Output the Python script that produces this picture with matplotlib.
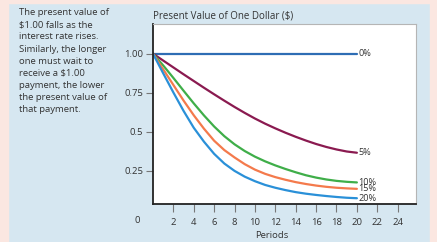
import matplotlib.pyplot as plt
from matplotlib.patches import Rectangle

##-Data
periods = list(range(0, 21))
rate_labels = ['0%', '5%', '10%', '15%', '20%']
pv_0 = [1.0] * 21
pv_5 = [1.0, 0.956, 0.912, 0.868, 0.825, 0.782, 0.740, 0.699, 0.659, 0.621, 0.585,
        0.552, 0.522, 0.494, 0.468, 0.444, 0.422, 0.403, 0.387, 0.374, 0.366]
pv_10 = [1.0, 0.925, 0.845, 0.763, 0.682, 0.605, 0.534, 0.472, 0.420, 0.377, 0.341,
         0.311, 0.285, 0.262, 0.241, 0.222, 0.207, 0.195, 0.186, 0.180, 0.176]
pv_15 = [1.0, 0.90, 0.80, 0.70, 0.606, 0.520, 0.443, 0.383, 0.336, 0.293, 0.258,
         0.231, 0.210, 0.193, 0.178, 0.166, 0.156, 0.148, 0.142, 0.138, 0.135]
pv_20 = [1.0, 0.875, 0.752, 0.634, 0.526, 0.437, 0.359, 0.297, 0.250, 0.213, 0.184,
         0.160, 0.142, 0.127, 0.114, 0.104, 0.096, 0.089, 0.083, 0.078, 0.075]
series = [pv_0, pv_5, pv_10, pv_15, pv_20]
colors = ['#2e6db4', '#8a1a50', '#3fae49', '#f47a4c', '#2a90d8']

yticks = [1.00, 0.75, 0.5, 0.25]
ytick_labels = ['1.00', '0.75', '0.5', '0.25']
xticks = [2, 4, 6, 8, 10, 12, 14, 16, 18, 20, 22, 24]

note = ('The present value of\n\\$1.00 falls as the\ninterest rate rises.\n'
        'Similarly, the longer\none must wait to\nreceive a \\$1.00\n'
        'payment, the lower\nthe present value of\nthat payment.')

##-Plot
plt.rcParams['font.family'] = ['Open Sans', 'DejaVu Sans']
txt_col = '#333333'
pink = '#fbe7e1'

fig = plt.figure(figsize=(4.37, 2.42), dpi=100)
fig.patch.set_facecolor('#d6e7f1')
# pink frame on top, left and right
for r in [(0, 0.987, 1, 0.013), (0, 0, 0.018, 1), (0.984, 0, 0.016, 1)]:
    fig.patches.append(Rectangle(r[:2], r[2], r[3], transform=fig.transFigure,
                                 color=pink, zorder=0))

ax = fig.add_axes([0.350, 0.157, 0.602, 0.744])
ax.set_facecolor('white')

for y, c in zip(series, colors):
    ax.plot(periods, y, color=c, lw=1.6, solid_capstyle='round')

for lab, y in zip(rate_labels, series):
    ax.text(20.15, y[-1], lab, fontsize=6.6, color=txt_col, va='center', ha='left')

ax.set_xlim(0, 25.8)
ax.set_ylim(0.038, 1.19)
ax.set_yticks(yticks)
ax.set_yticklabels(ytick_labels)
ax.set_xticks(xticks)
ax.tick_params(axis='both', direction='out', length=5, width=0.8, color='#777777',
               labelsize=6.8, labelcolor=txt_col, pad=2)
ax.tick_params(axis='x', length=6, pad=4)

for s in ['left', 'bottom']:
    ax.spines[s].set_color('#222222')
    ax.spines[s].set_linewidth(1.3)
for s in ['top', 'right']:
    ax.spines[s].set_color('#b5b5b5')
    ax.spines[s].set_linewidth(0.8)

ax.text(-0.05, -0.09, '0', transform=ax.transAxes, fontsize=6.8, color=txt_col,
        ha='right', va='center')

ax.set_xlabel('Periods', fontsize=6.8, color=txt_col)
ax.xaxis.set_label_coords(0.45, -0.15)
ax.text(0, 1.015, 'Present Value of One Dollar (\\$)', transform=ax.transAxes,
        fontsize=7, color=txt_col, ha='left', va='bottom')

fig.text(0.044, 0.965, note, fontsize=6.8, color=txt_col, ha='left', va='top',
         linespacing=1.43)

fig.savefig('out.png', dpi=100, facecolor=fig.get_facecolor())
